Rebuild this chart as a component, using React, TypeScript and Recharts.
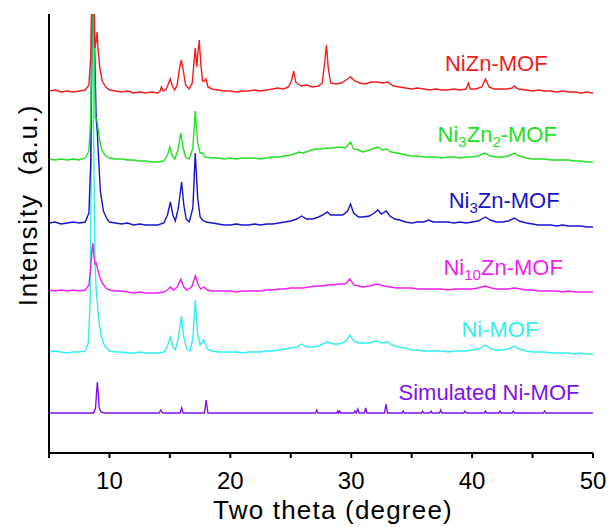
import { LineChart, Line, XAxis, YAxis, ReferenceDot } from 'recharts';

// intensity values are in plot units (0 = bottom of frame, 439 = top), offsets included
const niznMof: [number, number][] = [
  [5.0, 362], [5.5, 363], [6.0, 361], [6.5, 362], [7.0, 361], [7.5, 362], [8.0, 363], [8.3, 368],
  [8.45, 395], [8.55, 470], [8.62, 620], [8.72, 470], [8.8, 405], [8.9, 412], [8.97, 421], [9.05, 405],
  [9.2, 385], [9.4, 372], [9.7, 366], [10.0, 363], [10.5, 362], [11, 361], [11.5, 362], [12, 360],
  [12.5, 361], [13, 360], [13.5, 361], [14.0, 360], [14.2, 362], [14.3, 366], [14.45, 362], [14.7, 364],
  [14.9, 370], [15.04, 374], [15.2, 367], [15.4, 363], [15.6, 368], [15.8, 385], [15.95, 393], [16.1, 383],
  [16.3, 368], [16.6, 364], [16.85, 370], [17.0, 392], [17.1, 405], [17.22, 386], [17.32, 400], [17.43, 413],
  [17.55, 390], [17.7, 372], [17.85, 372], [17.98, 374], [18.15, 366], [18.5, 364], [19, 363], [19.5, 362],
  [20, 362], [20.5, 361], [21, 362], [21.5, 362], [22, 363], [22.5, 362], [23, 363], [23.5, 364],
  [23.9, 365], [24.4, 364], [24.8, 366], [25.05, 372], [25.25, 382], [25.4, 371], [25.6, 369], [25.9, 367],
  [26.3, 368], [26.8, 366], [27.3, 367], [27.6, 370], [27.8, 390], [27.95, 408], [28.1, 385], [28.3, 370],
  [28.7, 369], [29.2, 370], [29.7, 374], [29.95, 376], [30.3, 372], [30.7, 370], [31.2, 369], [31.6, 371],
  [32.1, 371], [32.6, 370], [33.0, 371], [33.5, 367], [34, 366], [34.5, 365], [35, 364], [35.5, 365],
  [36, 364], [36.5, 363], [37, 364], [37.5, 363], [38, 363], [38.5, 364], [39, 363], [39.5, 364],
  [39.7, 370], [39.85, 364], [40.3, 364], [40.8, 366], [41.1, 374], [41.4, 366], [41.8, 364], [42.3, 364],
  [42.9, 364], [43.3, 365], [43.5, 367], [43.8, 364], [44.5, 363], [45, 362], [45.5, 363], [46, 362],
  [46.5, 362], [47, 361], [47.5, 362], [48, 361], [48.5, 361], [49, 360], [49.5, 361], [50, 360],
];

const ni3zn2Mof: [number, number][] = [
  [5, 294], [5.5, 293], [6, 294], [6.5, 293], [7, 294], [7.5, 293], [8, 295], [8.3, 302], [8.45, 335],
  [8.55, 420], [8.62, 620], [8.72, 430], [8.82, 335], [8.95, 334], [9.05, 325], [9.2, 312], [9.4, 302],
  [9.7, 297], [10, 295], [10.5, 294], [11, 294], [11.5, 293], [12, 293], [12.5, 292], [13, 292], [13.5, 291],
  [14, 291], [14.5, 292], [14.8, 298], [15.0, 306], [15.2, 297], [15.4, 294], [15.65, 302], [15.9, 320],
  [16.1, 305], [16.3, 296], [16.6, 294], [16.9, 305], [17.1, 342], [17.3, 310], [17.5, 300], [17.7, 300],
  [17.9, 296], [18.5, 295], [19, 295], [19.5, 294], [20, 295], [20.5, 294], [21, 295], [21.5, 295],
  [22, 295], [22.5, 294], [23, 295], [23.5, 296], [24, 296], [24.5, 297], [25, 298], [25.5, 300],
  [25.7, 301], [26, 300], [26.5, 302], [27, 304], [27.5, 304], [28, 305], [28.5, 305], [29, 306],
  [29.5, 305], [29.75, 308], [29.94, 311], [30.2, 304], [30.6, 303], [31, 301], [31.5, 303], [32.2, 306],
  [32.6, 303], [32.9, 304], [33.3, 301], [33.8, 300], [34.5, 298], [35, 297], [35.5, 297], [36, 296],
  [36.5, 296], [37, 296], [37.5, 295], [38, 296], [38.5, 296], [39, 295], [39.5, 296], [40, 296],
  [40.5, 297], [41.05, 300], [41.5, 297], [42, 296], [42.5, 296], [43, 297], [43.5, 300], [43.9, 297],
  [44.5, 295], [45, 294], [45.5, 294], [46, 294], [46.5, 293], [47, 293], [47.5, 293], [48, 293],
  [48.5, 292], [49, 292], [49.5, 291], [50, 291],
];

const ni3znMof: [number, number][] = [
  [5, 230], [5.5, 231], [6, 229], [6.5, 230], [7, 231], [7.5, 230], [8, 231], [8.3, 240], [8.45, 290],
  [8.55, 420], [8.63, 620], [8.75, 420], [8.9, 335], [9.0, 320], [9.1, 295], [9.25, 262], [9.5, 242],
  [9.8, 234], [10, 231], [10.5, 230], [11, 229], [11.5, 230], [12, 228], [12.5, 229], [13, 228],
  [13.5, 228], [14, 228], [14.5, 230], [14.8, 238], [15.04, 251], [15.25, 238], [15.45, 232], [15.7, 245],
  [15.97, 271], [16.15, 248], [16.35, 234], [16.6, 231], [16.9, 245], [17.1, 300], [17.3, 255], [17.5, 236],
  [17.7, 233], [18, 231], [18.5, 230], [19, 229], [19.5, 228], [20, 228], [20.5, 229], [21, 228],
  [21.5, 228], [22, 229], [22.5, 228], [23, 229], [23.5, 229], [24, 230], [24.5, 231], [25, 232],
  [25.5, 234], [25.9, 237], [26.3, 234], [26.8, 234], [27.3, 236], [27.8, 239], [28, 241], [28.3, 238],
  [28.8, 238], [29.3, 238], [29.7, 242], [29.94, 249], [30.2, 240], [30.6, 236], [31, 236], [31.5, 237],
  [31.9, 240], [32.2, 243], [32.5, 239], [32.9, 242], [33.2, 237], [33.6, 234], [34, 233], [34.5, 231],
  [35, 230], [35.5, 231], [36, 231], [36.4, 233], [36.8, 231], [37.5, 231], [38, 231], [38.5, 230],
  [39, 231], [39.5, 230], [40, 231], [40.5, 232], [41.1, 236], [41.5, 233], [42, 231], [42.5, 231],
  [43, 232], [43.5, 235], [43.9, 232], [44.5, 230], [45, 229], [45.5, 228], [46, 228], [46.5, 228],
  [47, 227], [47.5, 228], [48, 227], [48.5, 227], [49, 227], [49.5, 226], [50, 226],
];

const ni10znMof: [number, number][] = [
  [5, 163], [5.5, 162], [6, 163], [6.5, 162], [7, 163], [7.5, 162], [8, 163], [8.3, 168], [8.45, 185],
  [8.55, 202], [8.63, 210], [8.72, 196], [8.82, 189], [8.92, 190], [9.02, 184], [9.2, 176], [9.4, 170],
  [9.7, 165], [10, 163], [10.5, 162], [11, 162], [11.5, 161], [12, 160], [12.5, 161], [13, 160],
  [13.5, 160], [14, 160], [14.5, 161], [14.8, 163], [15.04, 166], [15.3, 163], [15.6, 166], [15.9, 174],
  [16.15, 166], [16.4, 163], [16.8, 166], [17.1, 177], [17.35, 168], [17.55, 164], [17.8, 166], [18.1, 163],
  [18.5, 162], [19, 162], [19.5, 162], [20, 162], [20.5, 161], [21, 162], [21.5, 162], [22, 162],
  [22.5, 162], [23, 163], [23.5, 163], [24, 164], [24.5, 164], [25, 165], [25.5, 165], [26, 165],
  [26.5, 166], [27, 167], [27.5, 167], [28, 168], [28.5, 168], [29, 169], [29.5, 169], [29.9, 174],
  [30.2, 168], [30.6, 167], [31, 166], [31.5, 167], [32.2, 169], [32.7, 167], [33.2, 166], [33.8, 165],
  [34.5, 165], [35, 165], [35.5, 164], [36, 164], [36.5, 164], [37, 164], [37.5, 164], [38, 163],
  [38.5, 164], [39, 164], [39.5, 164], [40, 164], [40.5, 165], [41.1, 167], [41.6, 165], [42, 164],
  [42.5, 164], [43, 164], [43.5, 165], [44, 164], [44.5, 163], [45, 163], [45.5, 162], [46, 162],
  [46.5, 162], [47, 162], [47.5, 161], [48, 162], [48.5, 161], [49, 161], [49.5, 161], [50, 161],
];

const niMof: [number, number][] = [
  [5, 101], [5.5, 102], [6, 101], [6.5, 100], [7, 101], [7.5, 101], [8, 102], [8.25, 110], [8.4, 150],
  [8.5, 300], [8.57, 620], [8.68, 330], [8.8, 190], [8.92, 160], [9.0, 150], [9.1, 135], [9.3, 118],
  [9.6, 107], [10, 102], [10.5, 101], [11, 101], [11.5, 100], [12, 100], [12.5, 101], [13, 100],
  [13.5, 100], [14, 100], [14.5, 101], [14.8, 107], [15.04, 116], [15.25, 106], [15.45, 103], [15.7, 115],
  [15.95, 137], [16.15, 116], [16.4, 104], [16.7, 102], [16.9, 115], [17.1, 153], [17.3, 118], [17.5, 108],
  [17.8, 113], [18.1, 104], [18.5, 102], [19, 101], [19.5, 101], [20, 101], [20.5, 101], [21, 100],
  [21.5, 101], [22, 101], [22.5, 101], [23, 102], [23.5, 102], [24, 103], [24.5, 104], [25, 105],
  [25.5, 106], [25.9, 109], [26.3, 106], [26.8, 106], [27.3, 107], [27.8, 110], [28, 111], [28.5, 109],
  [29, 109], [29.5, 111], [29.9, 118], [30.2, 112], [30.6, 110], [31, 110], [31.5, 110], [32.1, 112],
  [32.5, 110], [33, 111], [33.4, 108], [33.9, 106], [34.5, 105], [35, 103], [35.5, 103], [36, 102],
  [36.5, 102], [37, 102], [37.5, 102], [38, 101], [38.5, 102], [39, 102], [39.5, 102], [40, 103],
  [40.5, 104], [41.1, 108], [41.6, 104], [42, 103], [42.5, 103], [43, 104], [43.5, 107], [43.9, 104],
  [44.5, 102], [45, 101], [45.5, 101], [46, 101], [46.5, 100], [47, 100], [47.5, 100], [48, 100],
  [48.5, 99], [49, 100], [49.5, 99], [50, 99],
];

const simulatedMof: [number, number][] = [
  [5, 40], [8.7, 40], [8.85, 45], [8.93, 60], [9.0, 71], [9.07, 60], [9.15, 45], [9.3, 41], [9.6, 40],
  [14.1, 40], [14.25, 43], [14.4, 40], [15.85, 40], [15.98, 45], [16.1, 40], [17.85, 40], [17.94, 47],
  [18.0, 53], [18.06, 47], [18.15, 40], [27.05, 40], [27.15, 43], [27.25, 40], [28.8, 40], [28.88, 42],
  [28.95, 40], [29.05, 42], [29.12, 40], [30.2, 40], [30.3, 42], [30.4, 40], [30.55, 44], [30.65, 40],
  [31.1, 40], [31.2, 45], [31.3, 40], [32.75, 40], [32.88, 49], [33.0, 40], [34.2, 40], [34.3, 42],
  [34.4, 40], [35.8, 40], [35.9, 42], [36.0, 40], [36.5, 40], [36.6, 42], [36.7, 40], [37.3, 40],
  [37.4, 43], [37.5, 40], [39.3, 40], [39.4, 42], [39.5, 40], [41.0, 40], [41.1, 42], [41.2, 40],
  [42.2, 40], [42.3, 42], [42.4, 40], [43.3, 40], [43.4, 42], [43.5, 40], [45.9, 40], [46.0, 42],
  [46.1, 40], [50, 40],
];

const xTicks = [5, 10, 15, 20, 25, 30, 35, 40, 45, 50];

// label text: alternating [normal, subscript, normal, ...] pieces
const seriesNames = ['NiZn-MOF', 'Ni3Zn2-MOF', 'Ni3Zn-MOF', 'Ni10Zn-MOF', 'Ni-MOF', 'Simulated Ni-MOF'];
const seriesLabelParts: string[][] = [
  ['NiZn-MOF'],
  ['Ni', '3', 'Zn', '2', '-MOF'],
  ['Ni', '3', 'Zn-MOF'],
  ['Ni', '10', 'Zn-MOF'],
  ['Ni-MOF'],
  ['Simulated Ni-MOF'],
];
const labelX = [42.0, 42.08, 42.65, 42.57, 42.3, 41.4];
const labelY = [382, 311, 245, 178, 116, 53];

const seriesColors = ['#f21c1c', '#22e022', '#1414cc', '#f01ef0', '#33eeee', '#8010ee'];
const seriesData = [niznMof, ni3zn2Mof, ni3znMof, ni10znMof, niMof, simulatedMof];

const FONT = '"Liberation Sans", Arial, sans-serif';

const toRows = (pts: [number, number][]) => pts.map(([x, y]) => ({ x, y }));

const XTick = (props: any) => {
  const { x, y, payload } = props;
  if (payload.value % 10 !== 0) return <g />;
  return (
    <text x={x} y={y} dy={29} textAnchor="middle" fontSize={24} fontFamily={FONT} fill="#000">
      {payload.value}
    </text>
  );
};

const XTitle = (props: any) => {
  const vb = props.viewBox || props;
  return (
    <text x={vb.x + vb.width / 2 + 12} y={vb.y + 66} textAnchor="middle" fontSize={26} letterSpacing={1.2}
      fontFamily={FONT} fill="#000">
      Two theta (degree)
    </text>
  );
};

const YTitle = (props: any) => {
  const vb = props.viewBox || props;
  const cx = vb.x + 37;
  const cy = vb.y + 191;
  return (
    <text x={cx} y={cy} transform={`rotate(-90, ${cx}, ${cy})`} textAnchor="middle" fontSize={26}
      letterSpacing={1.8} fontFamily={FONT} fill="#000" style={{ whiteSpace: 'pre' }}>
      {'Intensity  (a.u.)'}
    </text>
  );
};

const SeriesLabel = ({ cx, cy, parts, color }: { cx: number; cy: number; parts: string[]; color: string }) => (
  <text x={cx} y={cy} textAnchor="middle" fontSize={22} fontFamily={FONT} fill={color}>
    {parts.map((p, i) =>
      i % 2 === 1 ? (
        <tspan key={i} dy={5} fontSize={15}>{p}</tspan>
      ) : (
        <tspan key={i} dy={i === 0 ? 0 : -5}>{p}</tspan>
      )
    )}
  </text>
);

const XrdChart = () => {
  const order = [5, 4, 3, 2, 1, 0];
  return (
    <div style={{ position: 'absolute', left: 0, top: 0, width: 614, height: 527, background: '#fff' }}>
      <LineChart width={614} height={527} margin={{ top: 14, right: 21, bottom: 0, left: 0 }}>
        <XAxis
          type="number"
          dataKey="x"
          domain={[5, 50]}
          ticks={xTicks}
          interval={0}
          height={74}
          tickSize={5}
          axisLine={{ stroke: '#000', strokeWidth: 2 }}
          tickLine={{ stroke: '#000', strokeWidth: 2 }}
          tick={<XTick />}
          label={(p: any) => <XTitle {...p} />}
        />
        <XAxis xAxisId="top" orientation="top" type="number" domain={[5, 50]} height={0} tick={false}
          tickLine={false} axisLine={{ stroke: '#000', strokeWidth: 2 }} />
        <YAxis
          type="number"
          domain={[0, 439]}
          allowDataOverflow
          width={49}
          tick={false}
          tickLine={false}
          axisLine={{ stroke: '#000', strokeWidth: 2 }}
          label={(p: any) => <YTitle {...p} />}
        />
        <YAxis yAxisId="right" orientation="right" type="number" domain={[0, 1]} width={0} tick={false}
          tickLine={false} axisLine={{ stroke: '#000', strokeWidth: 2 }} />
        {order.map((i) => (
          <Line
            key={seriesNames[i]}
            name={seriesNames[i]}
            data={toRows(seriesData[i])}
            dataKey="y"
            type="linear"
            stroke={seriesColors[i]}
            strokeWidth={1.4}
            dot={false}
            activeDot={false}
            isAnimationActive={false}
          />
        ))}
        {seriesNames.map((n, i) => (
          <ReferenceDot
            key={'lbl-' + n}
            x={labelX[i]}
            y={labelY[i]}
            r={1}
            shape={(p: any) => <SeriesLabel cx={p.cx} cy={p.cy} parts={seriesLabelParts[i]} color={seriesColors[i]} />}
          />
        ))}
      </LineChart>
    </div>
  );
};

export default function App() {
  return <XrdChart />;
}
